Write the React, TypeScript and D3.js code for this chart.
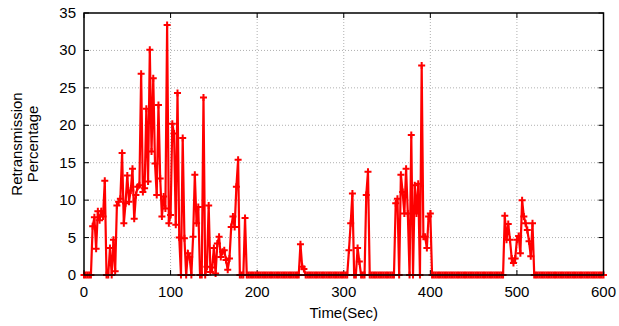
import React from "react";
import * as d3 from "d3";

// Sampling interval of the measurement (seconds between samples)
const SAMPLE_INTERVAL = 2;

// Retransmission percentage per sample, t = 0, 2, 4, ... 600 s
const retransPct: number[] = [
  // 0-58
  0, 0, 0, 0, 0, 6.5, 7.7, 3.5, 8.5, 7.3, 8.5, 7.8, 12.6, 0, 0, 3.6, 0, 4.7, 0.5, 9.3,
  9.8, 10.2, 16.3, 6.9, 9.6, 13.3, 9.8, 11.3, 14.2, 7.5,
  // 60-118
  10.7, 11.8, 12.0, 26.9, 11.1, 11.6, 22.2, 12.5, 30.1, 16.5, 26.3, 14.9, 10.7, 22.7, 12.9, 7.8,
  10.5, 8.9, 33.4, 6.9, 8.0, 20.2, 18.9, 6.7, 24.3, 5.0, 0, 18.3, 4.9, 0,
  // 120-178
  2.9, 2.4, 0, 5.1, 13.4, 6.9, 9.1, 0, 0, 23.7, 0, 1.1, 9.3, 0.4, 1.0, 3.6, 0.2, 4.2, 5.1, 2.4,
  3.1, 3.3, 2.0, 0.7, 2.2, 6.4, 7.8, 6.4, 11.8, 15.4,
  // 180-238
  0, 0, 0, 7.6, 0, 0, 0, 0, 0, 0, 0, 0, 0, 0, 0, 0, 0, 0, 0, 0,
  0, 0, 0, 0, 0, 0, 0, 0, 0, 0,
  // 240-298
  0, 0, 0, 0, 0, 4.1, 1.1, 0.8, 0, 0, 0, 0, 0, 0, 0, 0, 0, 0, 0, 0,
  0, 0, 0, 0, 0, 0, 0, 0, 0, 0,
  // 300-358
  0, 0, 0, 3.3, 6.9, 10.9, 0, 0, 3.6, 1.8, 0, 0, 0, 10.7, 13.8, 0, 0, 0, 0, 0,
  0, 0, 0, 0, 0, 0, 0, 0, 0, 0,
  // 360-418
  9.6, 10.2, 0, 13.4, 11.1, 8.2, 14.2, 8.2, 0, 18.7, 0, 12.0, 8.2, 12.2, 0, 28.0, 5.1, 5.1, 3.6, 7.8,
  8.2, 0, 0, 0, 0, 0, 0, 0, 0, 0,
  // 420-478
  0, 0, 0, 0, 0, 0, 0, 0, 0, 0, 0, 0, 0, 0, 0, 0, 0, 0, 0, 0,
  0, 0, 0, 0, 0, 0, 0, 0, 0, 0,
  // 480-538
  0, 0, 0, 7.9, 4.7, 6.8, 4.7, 2.2, 1.6, 2.2, 4.7, 5.2, 2.9, 10.0, 7.8, 6.9, 6.0, 4.5, 2.5, 6.9,
  0, 0, 0, 0, 0, 0, 0, 0, 0, 0,
  // 540-600
  0, 0, 0, 0, 0, 0, 0, 0, 0, 0, 0, 0, 0, 0, 0, 0, 0, 0, 0, 0,
  0, 0, 0, 0, 0, 0, 0, 0, 0, 0, 0,
];

const xTicks = [0, 100, 200, 300, 400, 500, 600];
const yTicks = [0, 5, 10, 15, 20, 25, 30, 35];
const xLabel = "Time(Sec)";
const yLabelLines = ["Retransmission", "Percentage"];

const W = 619;
const H = 326;
const M = { left: 84, right: 15.5, top: 13, bottom: 51 };
const FONT = "'Liberation Sans', Arial, Helvetica, sans-serif";

export default function App() {
  const iw = W - M.left - M.right;
  const ih = H - M.top - M.bottom;
  const x = d3.scaleLinear().domain([0, 600]).range([M.left, M.left + iw]);
  const y = d3.scaleLinear().domain([0, 35]).range([M.top + ih, M.top]);

  const pts = retransPct.map((v, i) => [i * SAMPLE_INTERVAL, v] as [number, number]);
  const line = d3
    .line<[number, number]>()
    .x((d) => x(d[0]))
    .y((d) => y(d[1]));

  const red = "#ff0000";
  const tickLen = 5;
  const left = M.left;
  const right = M.left + iw;
  const top = M.top;
  const bottom = M.top + ih;
  const ms = 3.5;
  const fs = 15;

  return (
    <svg
      width={W}
      height={H}
      style={{ position: "absolute", left: 0, top: 0, display: "block", background: "#fff" }}
      fontFamily={FONT}
    >
      {/* grid */}
      {xTicks
        .filter((t) => t > 0 && t < 600)
        .map((t) => (
          <line
            key={"gx" + t}
            x1={x(t)}
            x2={x(t)}
            y1={top}
            y2={bottom}
            stroke="#b0b0b0"
            strokeWidth={1}
            strokeDasharray="1,2"
          />
        ))}
      {yTicks
        .filter((t) => t > 0 && t < 35)
        .map((t) => (
          <line
            key={"gy" + t}
            x1={left}
            x2={right}
            y1={y(t)}
            y2={y(t)}
            stroke="#b0b0b0"
            strokeWidth={1}
            strokeDasharray="1,2"
          />
        ))}

      {/* ticks */}
      {xTicks.map((t) => (
        <g key={"tx" + t}>
          <line x1={x(t)} x2={x(t)} y1={bottom} y2={bottom - tickLen} stroke="#000" strokeWidth={1} />
          <line x1={x(t)} x2={x(t)} y1={top} y2={top + tickLen} stroke="#000" strokeWidth={1} />
          <text x={x(t)} y={bottom + 22} textAnchor="middle" fontSize={fs} fill="#000">
            {t}
          </text>
        </g>
      ))}
      {yTicks.map((t) => (
        <g key={"ty" + t}>
          <line x1={left} x2={left + tickLen} y1={y(t)} y2={y(t)} stroke="#000" strokeWidth={1} />
          <line x1={right} x2={right - tickLen} y1={y(t)} y2={y(t)} stroke="#000" strokeWidth={1} />
          <text x={left - 8} y={y(t) + 5} textAnchor="end" fontSize={fs} fill="#000">
            {t}
          </text>
        </g>
      ))}

      {/* data line */}
      <path d={line(pts) || ""} fill="none" stroke={red} strokeWidth={2.2} strokeLinejoin="miter" />
      {pts.map((d, i) => (
        <path
          key={"m" + i}
          d={`M${x(d[0]) - ms},${y(d[1])}H${x(d[0]) + ms}M${x(d[0])},${y(d[1]) - ms}V${y(d[1]) + ms}`}
          stroke={red}
          strokeWidth={2}
          fill="none"
        />
      ))}

      {/* frame */}
      <rect x={left} y={top} width={iw} height={ih} fill="none" stroke="#000" strokeWidth={1.5} />

      {/* labels */}
      <text x={(left + right) / 2} y={H - 8} textAnchor="middle" fontSize={fs} fill="#000">
        {xLabel}
      </text>
      <g transform={`translate(22, ${(top + bottom) / 2}) rotate(-90)`}>
        <text x={0} y={0} textAnchor="middle" fontSize={fs} fill="#000">
          {yLabelLines[0]}
        </text>
        <text x={0} y={16} textAnchor="middle" fontSize={fs} fill="#000">
          {yLabelLines[1]}
        </text>
      </g>
    </svg>
  );
}
